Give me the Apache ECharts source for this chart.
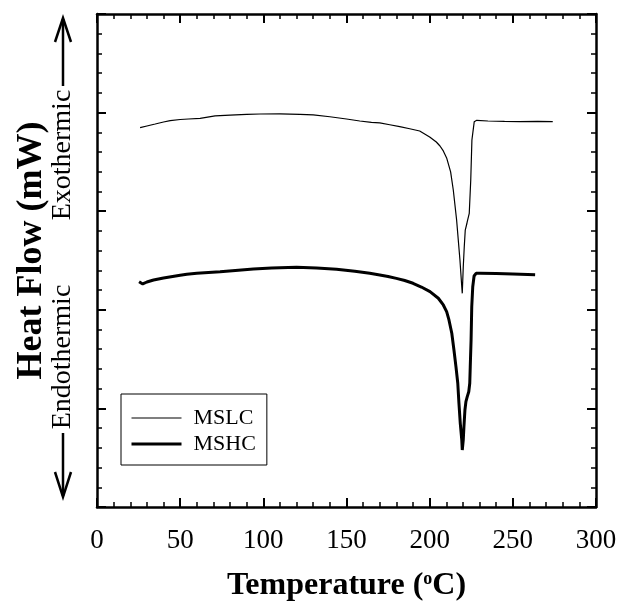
<!DOCTYPE html>
<html>
<head>
<meta charset="utf-8">
<script src="https://cdn.jsdelivr.net/npm/echarts@6/dist/echarts.min.js"></script>
<style>html,body{margin:0;padding:0;background:#fff;}#c{width:618px;height:603px;}</style>
</head>
<body>
<div id="c"></div>
<script>
// ---- data ----
const xTicks = [0, 50, 100, 150, 200, 250, 300];
const seriesNames = ['MSLC', 'MSHC'];

const mslcT = [25.9, 30, 35, 40, 44, 50, 55, 62, 71, 80, 90, 98, 110, 122, 130, 140, 150, 158, 165, 170, 176, 182, 188, 194, 200, 204, 206.2, 208.2, 210.2, 212.6, 214.2, 216.2, 218.2, 219.3, 219.6, 220.2, 220.8, 221.4, 222.3, 222.6, 223.8, 224.7, 225.4, 226.8, 228.3, 235, 245, 254, 265, 274];
const mslcH = [3.847, 3.864, 3.884, 3.905, 3.918, 3.930, 3.935, 3.942, 3.966, 3.974, 3.981, 3.986, 3.988, 3.983, 3.976, 3.958, 3.935, 3.915, 3.900, 3.895, 3.877, 3.857, 3.836, 3.813, 3.753, 3.702, 3.661, 3.611, 3.540, 3.398, 3.215, 2.911, 2.505, 2.234, 2.167, 2.437, 2.640, 2.809, 2.870, 2.894, 2.979, 3.316, 3.722, 3.908, 3.922, 3.915, 3.910, 3.908, 3.910, 3.908];

const mshcT = [25.3, 27.5, 30, 34, 40, 50, 54, 60, 74, 85, 94, 105, 120, 132, 144, 155, 164, 170, 175, 180, 185, 190, 195, 200.2, 205.2, 208.2, 210.2, 211.6, 213.3, 214.6, 215.8, 216.9, 217.6, 218.4, 219.3, 219.6, 220.2, 220.6, 221.2, 221.8, 222.6, 223.5, 224.1, 224.4, 224.9, 225.3, 225.9, 226.7, 227.9, 230.3, 240, 250, 263.4];
const mshcH = [2.285, 2.262, 2.282, 2.302, 2.323, 2.350, 2.360, 2.370, 2.386, 2.402, 2.414, 2.424, 2.431, 2.424, 2.411, 2.390, 2.370, 2.353, 2.338, 2.319, 2.297, 2.269, 2.231, 2.184, 2.117, 2.049, 1.981, 1.897, 1.762, 1.592, 1.423, 1.255, 1.052, 0.849, 0.680, 0.578, 0.680, 0.814, 0.984, 1.068, 1.119, 1.169, 1.255, 1.423, 1.694, 2.031, 2.234, 2.343, 2.370, 2.370, 2.368, 2.363, 2.356];

const lineWidths = [1.2, 3];

const FONT = 'Liberation Serif';
const chart = echarts.init(document.getElementById('c'), null, {renderer: 'canvas'});

function pairs(xs, ys) { return xs.map((x, i) => [x, ys[i]]); }

const frameLine = {show: true, onZero: false, lineStyle: {color: '#000', width: 2.5}};
const majorTick = {show: true, inside: true, length: 9, lineStyle: {color: '#000', width: 2}};
const minorTick = {show: true, splitNumber: 5, length: 5, lineStyle: {color: '#000', width: 1.5}};

chart.setOption({
  animation: false,
  backgroundColor: '#fff',
  grid: {left: 97, right: 22, top: 14, bottom: 96, containLabel: false, outerBoundsMode: 'none'},
  legend: {
    orient: 'vertical',
    left: 121, top: 394,
    data: seriesNames.map((n, i) => ({name: n, lineStyle: {color: '#000', width: lineWidths[i]}})),
    itemWidth: 50, itemHeight: 14, itemGap: 0,
    padding: [11, 11, 8, 9],
    borderColor: '#000', borderWidth: 1,
    itemStyle: {opacity: 0},
    textStyle: {fontFamily: FONT, fontSize: 22, color: '#000', lineHeight: 26, padding: [0, 0, 0, 7]}
  },
  xAxis: [{
    type: 'value', position: 'bottom', min: 0, max: 300, interval: 50,
    axisLine: frameLine, axisTick: majorTick, minorTick: minorTick,
    splitLine: {show: false}, minorSplitLine: {show: false},
    axisLabel: {
      margin: 20, color: '#000', fontFamily: FONT, fontSize: 27,
      formatter: v => (xTicks.indexOf(v) >= 0 ? String(v) : '')
    },
    name: 'Temperature ({sup|o}C)',
    nameLocation: 'middle', nameGap: 63,
    nameTextStyle: {
      fontFamily: FONT, fontSize: 32, fontWeight: 'bold', color: '#000',
      rich: {sup: {fontFamily: FONT, fontSize: 18, color: '#000', verticalAlign: 'top', padding: [0, 0, 14, 0]}}
    }
  }, {
    type: 'value', position: 'top', min: 0, max: 300, interval: 50,
    axisLine: frameLine, axisTick: majorTick, minorTick: minorTick,
    splitLine: {show: false}, axisLabel: {show: false}
  }],
  yAxis: [{
    type: 'value', position: 'left', min: 0, max: 5, interval: 1,
    axisLine: frameLine, axisTick: majorTick, minorTick: minorTick,
    splitLine: {show: false}, axisLabel: {show: false},
    name: 'Heat Flow (mW)', nameLocation: 'middle', nameGap: 47, nameRotate: 90,
    nameTextStyle: {fontFamily: FONT, fontSize: 36, fontWeight: 'bold', color: '#000', padding: [0, 0, 0, 20]}
  }, {
    type: 'value', position: 'right', min: 0, max: 5, interval: 1,
    axisLine: frameLine, axisTick: majorTick, minorTick: minorTick,
    splitLine: {show: false}, axisLabel: {show: false}
  }],
  series: [{
    name: seriesNames[0], type: 'line', symbol: 'none', smooth: false,
    xAxisIndex: 0, yAxisIndex: 0,
    lineStyle: {color: '#000', width: lineWidths[0]}, itemStyle: {color: '#000'},
    data: pairs(mslcT, mslcH)
  }, {
    name: seriesNames[1], type: 'line', symbol: 'none', smooth: false,
    xAxisIndex: 0, yAxisIndex: 0,
    lineStyle: {color: '#000', width: lineWidths[1]}, itemStyle: {color: '#000'},
    data: pairs(mshcT, mshcH)
  }],
  graphic: [
    {type: 'text', x: 63, y: 155, rotation: Math.PI / 2,
     style: {text: 'Exothermic', font: '28px "Liberation Serif"', fill: '#000', align: 'center', verticalAlign: 'middle'}},
    {type: 'text', x: 63, y: 357, rotation: Math.PI / 2,
     style: {text: 'Endothermic', font: '28px "Liberation Serif"', fill: '#000', align: 'center', verticalAlign: 'middle'}},
    {type: 'line', shape: {x1: 63, y1: 86, x2: 63, y2: 19}, style: {stroke: '#000', lineWidth: 2.5}},
    {type: 'polyline', shape: {points: [[55, 42], [63, 18], [71, 42]]}, style: {stroke: '#000', lineWidth: 2.5, fill: null}},
    {type: 'line', shape: {x1: 63, y1: 433, x2: 63, y2: 496}, style: {stroke: '#000', lineWidth: 2.5}},
    {type: 'polyline', shape: {points: [[55, 472], [63, 497], [71, 472]]}, style: {stroke: '#000', lineWidth: 2.5, fill: null}}
  ]
});
</script>
</body>
</html>
